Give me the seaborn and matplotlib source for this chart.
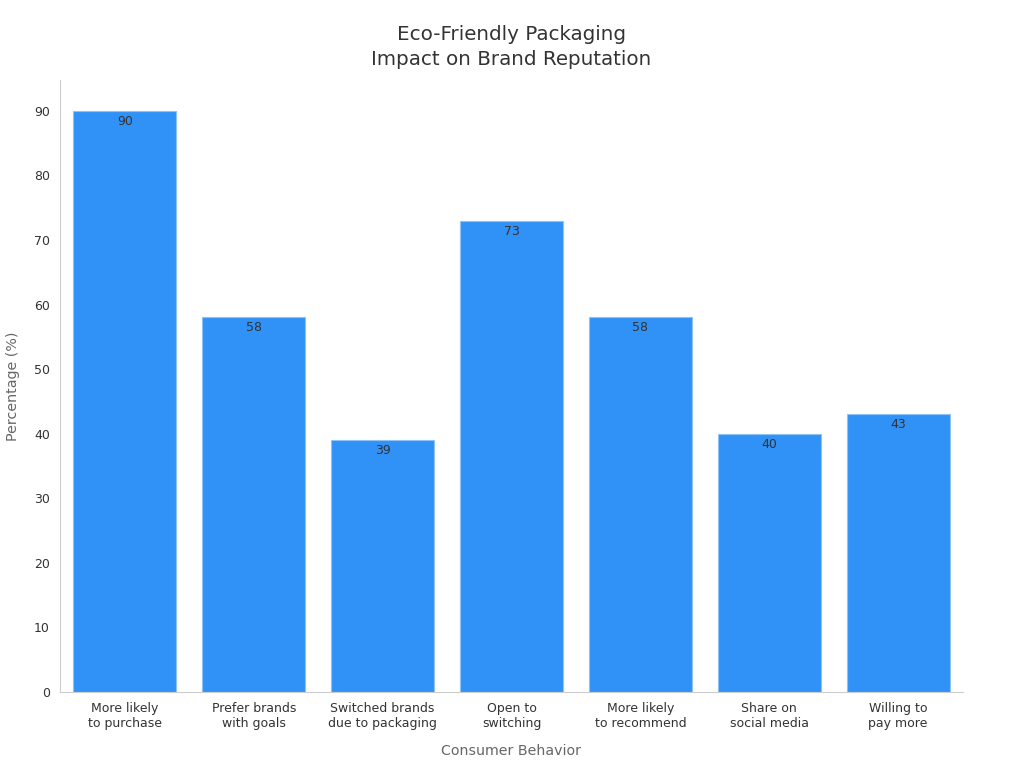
import matplotlib
matplotlib.use('Agg')
import matplotlib.pyplot as plt
import seaborn as sns
import pandas as pd

categories = ['More likely\nto purchase', 'Prefer brands\nwith goals', 'Switched brands\ndue to packaging',
              'Open to\nswitching', 'More likely\nto recommend', 'Share on\nsocial media', 'Willing to\npay more']
values = [90, 58, 39, 73, 58, 40, 43]

df = pd.DataFrame({'behavior': categories, 'pct': values})

sns.set_style('white')
plt.rcParams['font.family'] = ['DejaVu Sans']

fig, ax = plt.subplots(figsize=(10.24, 7.68), dpi=100)
sns.barplot(data=df, x='behavior', y='pct', color='#3092F6', saturation=1, width=0.8,
            edgecolor='#8FC3F5', linewidth=0.8, ax=ax)

for i, v in enumerate(values):
    ax.text(i, v - 0.6, str(v), ha='center', va='top', fontsize=9, color='#333333')

ax.set_xlim(-0.5, 6.5)
ax.set_ylim(0, 94.8)
ax.set_yticks(range(0, 91, 10))
ax.set_title('Eco-Friendly Packaging\nImpact on Brand Reputation', fontsize=14.3, color='#333333',
             pad=11, linespacing=1.35)
ax.set_xlabel('Consumer Behavior', fontsize=10.2, color='#666666', labelpad=10)
ax.set_ylabel('Percentage (%)', fontsize=10.3, color='#666666', labelpad=10)
ax.tick_params(axis='both', labelsize=9, colors='#333333', length=4, width=0.8)
ax.tick_params(axis='both', color='#666666')
sns.despine(ax=ax)
for s in ['left', 'bottom']:
    ax.spines[s].set_color('#cccccc')

plt.subplots_adjust(left=0.059, right=0.94, top=0.896, bottom=0.099)
plt.savefig('out.png', dpi=100)
